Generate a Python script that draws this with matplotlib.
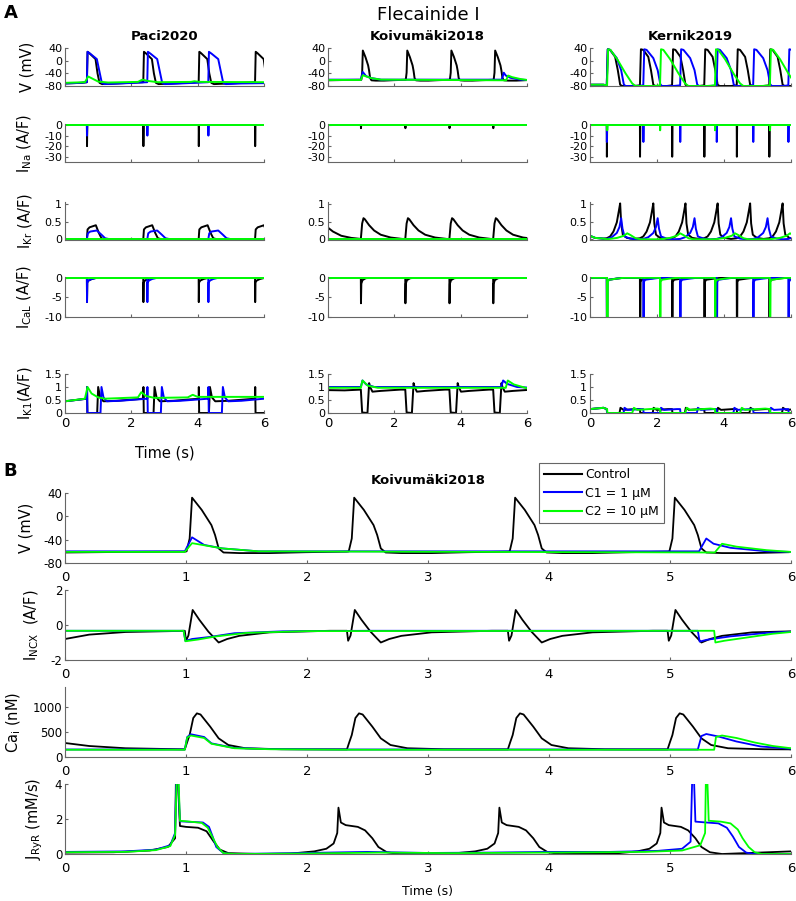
import matplotlib
matplotlib.use("Agg")
import matplotlib.pyplot as plt
from matplotlib.ticker import FuncFormatter

plt.rcParams['font.family'] = ['DejaVu Sans']
plt.rcParams['axes.unicode_minus'] = False

#--------------------------------------------------------------------
#                     text / labels
#--------------------------------------------------------------------
fig_title = 'Flecainide I'
model_names = ['Paci2020', 'Koivumäki2018', 'Kernik2019']
legend_labels = ['Control', 'C1 = 1 μM', 'C2 = 10 μM']
a_ylabels = ['V (mV)', r'I$_{\mathrm{Na}}$ (A/F)', r'I$_{\mathrm{Kr}}$ (A/F)',
             r'I$_{\mathrm{CaL}}$ (A/F)', r'I$_{\mathrm{K1}}$(A/F)']
b_ylabels = ['V (mV)', r'I$_{\mathrm{NCX}}$  (A/F)', r'Ca$_{\mathrm{i}}$ (nM)',
             r'J$_{\mathrm{RyR}}$ (mM/s)']
a_yticks = [[-80, -40, 0, 40], [-30, -20, -10, 0], [0, 0.5, 1],
            [-10, -5, 0], [0, 0.5, 1, 1.5]]
a_ylims = [(-80, 40), (-35, 0.5), (-0.02, 1.06), (-10, 0.2), (0, 1.5)]
b_yticks = [[-80, -40, 0, 40], [-2, 0, 2], [0, 500, 1000], [0, 2, 4]]
b_ylims = [(-80, 40), (-2, 2), (0, 1400), (0, 4)]
a_xticks = [0, 2, 4, 6]
b_xticks = [0, 1, 2, 3, 4, 5, 6]
colors = ['#000000', '#0000ff', '#00ff00']

#--------------------------------------------------------------------
#                     Paci2020
#--------------------------------------------------------------------
paci_on_ctl = [0.66, 2.36, 4.03, 5.73]
paci_on_c1 = [0.66, 2.48, 4.32]

paci_v_pre = [(0, -72), (0.5, -70)]
paci_v_ctl = [(0, -68), (0.02, 28), (0.07, 24), (0.26, 5), (0.32, -40),
              (0.38, -70), (0.46, -74), (0.9, -72)]
paci_v_c1 = [(0, -68), (0.02, 28), (0.1, 22), (0.3, 5), (0.38, -35),
             (0.45, -70), (0.53, -74), (1.0, -72)]
paci_v_c2 = [(0, -70), (0.6, -68), (0.7, -50), (0.85, -58), (1.0, -66),
             (1.3, -69), (2.2, -67), (2.33, -60), (2.5, -64), (2.8, -68),
             (3.8, -67), (3.9, -65), (4.05, -67), (6, -68)]

paci_ina_ctl = [(0, 0), (0.004, -20), (0.012, 0)]
paci_ina_c1 = [(0, 0), (0.004, -10), (0.012, 0)]

paci_ikr_ctl = [(0, 0), (0.02, 0.28), (0.08, 0.34), (0.27, 0.4), (0.36, 0.18),
                (0.44, 0.03), (0.55, 0)]
paci_ikr_c1 = [(0, 0), (0.03, 0.17), (0.1, 0.22), (0.3, 0.25), (0.44, 0.13),
               (0.55, 0.03), (0.7, 0)]

paci_ical_ctl = [(0, 0), (0.004, -6.2), (0.012, -1.2), (0.05, -0.7),
                 (0.15, -0.3), (0.3, 0)]

paci_ik1_ctl = [(0, 0.55), (0.005, 1.0), (0.015, 0.0), (0.31, 0.0), (0.34, 1.0),
                (0.4, 0.6), (0.5, 0.45), (0.9, 0.47)]
paci_ik1_c1 = [(0, 0.55), (0.005, 1.0), (0.015, 0.0), (0.41, 0.0), (0.44, 1.0),
               (0.5, 0.6), (0.6, 0.45), (1.0, 0.47)]
paci_ik1_c2 = [(0, 0.45), (0.6, 0.55), (0.68, 1.0), (0.8, 0.75), (1.0, 0.6),
               (1.2, 0.55), (2.2, 0.6), (2.3, 0.8), (2.45, 0.65), (2.7, 0.58),
               (3.7, 0.6), (3.85, 0.7), (4.0, 0.62), (5.0, 0.62), (6, 0.62)]

#--------------------------------------------------------------------
#                     Koivumaki2018
#--------------------------------------------------------------------
koiv_on_ctl = [0.99, 2.33, 3.66, 4.98]

koiv_v_pre = [(0, -62), (0.5, -61)]
koiv_v_ctl = [(0, -60.5), (0.015, -60), (0.04, -38), (0.06, 32), (0.14, 11),
              (0.22, -15), (0.25, -32), (0.28, -55), (0.32, -62), (0.45, -63),
              (0.7, -63), (1.0, -61.5)]
koiv_v_c1 = [(0, -60), (0.99, -60), (1.05, -36), (1.15, -49), (1.3, -55),
             (1.6, -60), (5.24, -60), (5.3, -38), (5.36, -47), (5.5, -54),
             (5.8, -60), (6, -61)]
koiv_v_c2 = [(0, -61), (0.99, -61), (1.05, -46), (1.3, -55), (1.6, -60),
             (5.37, -62), (5.43, -47), (5.55, -52), (5.8, -58), (6, -61)]

koiv_ina_ctl = [(0, 0), (0.004, -3), (0.012, 0)]

koiv_ikr_pre = [(0, 0.33), (0.15, 0.22), (0.4, 0.1), (0.7, 0.04)]
koiv_ikr_ctl = [(0, 0.01), (0.04, 0.45), (0.08, 0.6), (0.12, 0.57), (0.25, 0.4),
                (0.4, 0.25), (0.6, 0.13), (0.9, 0.05), (1.25, 0.01)]

koiv_ical_ctl = [(0, 0), (0.004, -6.5), (0.015, -1.5), (0.05, -0.6),
                 (0.15, -0.1), (0.3, 0)]

koiv_ik1_pre = [(0, 0.88), (0.5, 0.87)]
koiv_ik1_ctl = [(0, 0.9), (0.04, 0.02), (0.2, 0.0), (0.25, 1.15), (0.28, 1.0),
                (0.35, 0.82), (0.6, 0.85), (1.2, 0.9)]
koiv_ik1_c1 = [(0, 1.0), (0.99, 1.0), (1.04, 1.25), (1.15, 1.1), (1.4, 1.0),
               (5.22, 1.0), (5.28, 1.25), (5.4, 1.12), (5.7, 1.0), (6, 0.98)]
koiv_ik1_c2 = [(0, 0.97), (0.99, 0.97), (1.04, 1.25), (1.2, 1.05), (1.5, 0.97),
               (5.36, 0.97), (5.42, 1.25), (5.6, 1.1), (6, 0.95)]

#--------------------------------------------------------------------
#                     Kernik2019
#--------------------------------------------------------------------
kern_on_ctl = [0.5, 1.49, 2.45, 3.41, 4.38, 5.35]
kern_on_c1 = [0.5, 1.59, 2.69, 3.78, 4.87, 5.92]
kern_on_c2 = [0.51, 2.09, 3.73, 5.37]

kern_v_pre = [(0, -76), (0.4, -76)]
kern_v_ctl = [(0, -78), (0.03, 36), (0.1, 34), (0.25, 12), (0.33, -30),
              (0.4, -76), (0.46, -80), (0.8, -80)]
kern_v_c1 = [(0, -78), (0.03, 36), (0.1, 34), (0.3, 8), (0.43, -30),
             (0.51, -75), (0.56, -80), (0.9, -80)]
kern_v_c2 = [(0, -78), (0.03, 36), (0.1, 34), (0.3, 5), (0.55, -40),
             (0.75, -72), (0.85, -80), (1.4, -80)]

kern_ina_ctl = [(0, 0), (0.004, -30), (0.012, 0)]
kern_ina_c1 = [(0, 0), (0.004, -16), (0.012, 0)]
kern_ina_c2 = [(0, 0), (0.004, -5), (0.012, 0)]

kern_ikr_pre = [(0, 0.1), (0.15, 0.04), (0.4, 0.02)]
kern_ikr_ctl = [(0, 0.03), (0.1, 0.08), (0.2, 0.22), (0.3, 0.48), (0.36, 0.8),
                (0.4, 1.02), (0.43, 0.45), (0.48, 0.13), (0.6, 0.04), (0.8, 0.01)]
kern_ikr_c1 = [(0, 0.01), (0.15, 0.06), (0.3, 0.18), (0.38, 0.35), (0.43, 0.6),
               (0.47, 0.3), (0.53, 0.08), (0.7, 0.02), (0.9, 0.0)]
kern_ikr_c2 = [(0, 0.0), (0.3, 0.04), (0.5, 0.1), (0.6, 0.17), (0.7, 0.12),
               (0.85, 0.03), (1.0, 0.0)]

kern_ical = [(0, 0), (0.004, -11), (0.014, -11), (0.02, -1.0), (0.06, -0.5),
             (0.3, -0.2), (0.5, 0)]

kern_ik1_pre = [(0, 0.15), (0.4, 0.2)]
kern_ik1_ctl = [(0, 0.15), (0.01, 0.0), (0.38, 0.0), (0.41, 0.2), (0.5, 0.12),
                (0.85, 0.15)]
kern_ik1_c1 = [(0, 0.15), (0.01, 0.0), (0.5, 0.0), (0.53, 0.2), (0.62, 0.12),
               (1.0, 0.15)]
kern_ik1_c2 = [(0, 0.15), (0.01, 0.0), (0.75, 0.0), (0.8, 0.2), (0.9, 0.12),
               (1.5, 0.17)]

#--------------------------------------------------------------------
#                     panel B extra traces (Koivumaki2018)
#--------------------------------------------------------------------
incx_pre = [(0, -0.8), (0.2, -0.55), (0.5, -0.4), (0.95, -0.34)]
incx_ctl = [(0, -0.33), (0.01, -0.9), (0.03, -0.6), (0.065, 0.86), (0.12, 0.3),
            (0.195, -0.38), (0.28, -1.0), (0.35, -0.8), (0.45, -0.62),
            (0.7, -0.42), (1.2, -0.33)]
incx_c1 = [(0, -0.33), (0.98, -0.33), (0.995, -0.91), (1.05, -0.8), (1.2, -0.68),
           (1.4, -0.47), (1.8, -0.36), (2.5, -0.33), (5.23, -0.33),
           (5.245, -0.95), (5.3, -0.85), (5.5, -0.65), (5.8, -0.45), (6, -0.38)]
incx_c2 = [(0, -0.33), (0.98, -0.33), (0.995, -0.93), (1.1, -0.83),
           (1.25, -0.65), (1.5, -0.45), (2.0, -0.35), (5.365, -0.33),
           (5.375, -1.0), (5.45, -0.9), (5.65, -0.7), (5.85, -0.5), (6, -0.4)]

cai_pre = [(0, 280), (0.2, 220), (0.5, 175), (0.95, 155)]
cai_ctl = [(0, 153), (0.02, 300), (0.04, 440), (0.07, 780), (0.1, 873),
           (0.13, 850), (0.21, 607), (0.28, 373), (0.36, 240), (0.5, 175),
           (0.8, 155), (1.0, 153)]
cai_c1 = [(0, 150), (0.99, 150), (1.01, 400), (1.04, 455), (1.15, 400),
          (1.21, 273), (1.4, 180), (1.7, 158), (2.3, 150), (5.23, 150),
          (5.26, 420), (5.3, 460), (5.4, 410), (5.55, 310), (5.75, 210), (6, 165)]
cai_c2 = [(0, 145), (0.99, 145), (1.01, 390), (1.04, 430), (1.15, 380),
          (1.21, 265), (1.4, 175), (1.7, 155), (2.3, 145), (5.365, 145),
          (5.38, 400), (5.43, 430), (5.55, 380), (5.7, 290), (5.85, 220), (6, 175)]

jryr_pre = [(0, 0.08), (0.4, 0.1), (0.7, 0.2), (0.85, 0.4), (0.91, 0.9),
            (0.92, 6), (0.95, 1.6), (1.0, 1.55), (1.1, 1.5), (1.17, 1.3),
            (1.23, 0.7), (1.28, 0.25), (1.35, 0.05), (1.6, 0.0)]
jryr_spk_ctl = [2.26, 3.59, 4.93]
jryr_ctl = [(-0.4, 0.02), (-0.2, 0.15), (-0.1, 0.3), (-0.04, 0.6), (-0.01, 1.2),
            (0, 2.65), (0.02, 1.8), (0.06, 1.65), (0.16, 1.55), (0.22, 1.35),
            (0.28, 0.9), (0.33, 0.4), (0.4, 0.1), (0.5, 0.0)]
jryr_c1 = [(0, 0.12), (0.5, 0.15), (0.75, 0.25), (0.87, 0.5), (0.91, 1.2),
           (0.925, 6), (0.95, 1.87), (1.0, 1.85), (1.14, 1.8), (1.19, 1.55),
           (1.22, 1.0), (1.25, 0.4), (1.31, 0.05), (1.38, 0.0), (1.6, 0.02),
           (2.0, 0.06), (2.5, 0.12), (3.0, 0.06), (3.5, 0.08), (4.0, 0.12),
           (4.5, 0.12), (4.9, 0.18), (5.1, 0.3), (5.17, 0.7), (5.19, 6),
           (5.21, 1.85), (5.3, 1.8), (5.4, 1.75), (5.47, 1.5), (5.52, 1.0),
           (5.57, 0.4), (5.63, 0.08), (5.7, 0.0), (6, 0.0)]
jryr_c2 = [(0, 0.1), (0.5, 0.12), (0.75, 0.22), (0.87, 0.45), (0.91, 1.1),
           (0.93, 6), (0.95, 1.9), (1.0, 1.87), (1.13, 1.78), (1.18, 1.5),
           (1.22, 0.95), (1.26, 0.4), (1.31, 0.05), (1.4, 0.0), (2.0, 0.03),
           (2.6, 0.08), (3.2, 0.05), (4.0, 0.08), (4.8, 0.12), (5.1, 0.2),
           (5.25, 0.5), (5.29, 1.2), (5.30, 6), (5.32, 1.9), (5.42, 1.85),
           (5.5, 1.75), (5.56, 1.4), (5.6, 0.9), (5.65, 0.4), (5.7, 0.1),
           (5.76, 0.0), (6, 0.0)]

flat0 = [(0, 0), (6, 0)]


#--------------------------------------------------------------------
#                     helpers
#--------------------------------------------------------------------
def unzip(points):
    return [p[0] for p in points], [p[1] for p in points]


def train(pre, onsets, shape, end=None):
    '''beats placed at the read onset times, joined by straight lines'''
    points = list(pre)
    for u in onsets:
        points += [(u + dt, val) for dt, val in shape]
    if end is not None:
        points.append((6.0, end))
    return unzip(points)


W, H = 796, 901
fig = plt.figure(figsize=(W / 100, H / 100), dpi=100)
gray = '#666666'


def add_ax(x0, x1, ytop, ybot):
    return fig.add_axes([x0 / W, 1 - ybot / H, (x1 - x0) / W, (ybot - ytop) / H])


def style(ax, xticks, yticks, ylim, show_x, xsize, ysize, xpad):
    ax.set_xlim(0, 6)
    ax.set_ylim(*ylim)
    ax.set_xticks(xticks)
    ax.set_yticks(yticks)
    ax.patch.set_alpha(0)
    for s in ('top', 'right'):
        ax.spines[s].set_visible(False)
    for s in ('left', 'bottom'):
        ax.spines[s].set_color(gray)
        ax.spines[s].set_linewidth(0.8)
    ax.tick_params(direction='in', length=2.5, width=0.8, color=gray)
    ax.tick_params(axis='y', labelsize=ysize, pad=2)
    ax.tick_params(axis='x', labelsize=xsize, pad=xpad, labelbottom=show_x)
    fmt = FuncFormatter(lambda v, p: f'{v:g}')
    ax.xaxis.set_major_formatter(fmt)
    ax.yaxis.set_major_formatter(fmt)


def draw(ax, traces, lw=1.4):
    for (t, v), c in zip(traces, colors):
        ax.plot(t, v, color=c, lw=lw, solid_joinstyle='round')


#--------------------------------------------------------------------
#                     panel A
#--------------------------------------------------------------------
a_cols = [(65, 264), (328, 527), (590, 791)]
a_rows = [(48, 86), (124.5, 162), (202, 240), (277, 317), (374, 413)]

paci = [
    [train(paci_v_pre, paci_on_ctl, paci_v_ctl),
     train(paci_v_pre, paci_on_c1, paci_v_c1, -71),
     unzip(paci_v_c2)],
    [train([(0, 0)], paci_on_ctl, paci_ina_ctl, 0),
     train([(0, 0)], paci_on_c1, paci_ina_c1, 0),
     unzip(flat0)],
    [train([(0, 0)], paci_on_ctl, paci_ikr_ctl),
     train([(0, 0)], paci_on_c1, paci_ikr_c1, 0),
     unzip(flat0)],
    [train([(0, 0)], paci_on_ctl, paci_ical_ctl),
     train([(0, 0)], paci_on_c1, paci_ical_ctl, 0),
     unzip(flat0)],
    [train([(0, 0.45)], paci_on_ctl, paci_ik1_ctl),
     train([(0, 0.45)], paci_on_c1, paci_ik1_c1, 0.55),
     unzip(paci_ik1_c2)],
]
koiv = [
    [train(koiv_v_pre, koiv_on_ctl, koiv_v_ctl), unzip(koiv_v_c1), unzip(koiv_v_c2)],
    [train([(0, 0)], koiv_on_ctl, koiv_ina_ctl, 0), unzip(flat0), unzip(flat0)],
    [train(koiv_ikr_pre, koiv_on_ctl, koiv_ikr_ctl), unzip(flat0), unzip(flat0)],
    [train([(0, 0)], koiv_on_ctl, koiv_ical_ctl, 0), unzip(flat0), unzip(flat0)],
    [train(koiv_ik1_pre, koiv_on_ctl, koiv_ik1_ctl), unzip(koiv_ik1_c1),
     unzip(koiv_ik1_c2)],
]
kern = [
    [train(kern_v_pre, kern_on_ctl, kern_v_ctl),
     train(kern_v_pre, kern_on_c1, kern_v_c1),
     train(kern_v_pre, kern_on_c2, kern_v_c2)],
    [train([(0, 0)], kern_on_ctl, kern_ina_ctl, 0),
     train([(0, 0)], kern_on_c1, kern_ina_c1, 0),
     train([(0, 0)], kern_on_c2, kern_ina_c2, 0)],
    [train(kern_ikr_pre, kern_on_ctl, kern_ikr_ctl),
     train(kern_ikr_pre, kern_on_c1, kern_ikr_c1),
     train(kern_ikr_pre, kern_on_c2, kern_ikr_c2)],
    [train([(0, 0)], kern_on_ctl, kern_ical, 0),
     train([(0, 0)], kern_on_c1, kern_ical),
     train([(0, 0)], kern_on_c2, kern_ical, 0)],
    [train(kern_ik1_pre, kern_on_ctl, kern_ik1_ctl),
     train(kern_ik1_pre, kern_on_c1, kern_ik1_c1),
     train(kern_ik1_pre, kern_on_c2, kern_ik1_c2)],
]

for ci, model in enumerate([paci, koiv, kern]):
    x0, x1 = a_cols[ci]
    for ri, (ytop, ybot) in enumerate(a_rows):
        ax = add_ax(x0, x1, ytop, ybot)
        draw(ax, model[ri])
        style(ax, a_xticks, a_yticks[ri], a_ylims[ri], ri == 4, 9.5, 8, 3)
        if ci == 0:
            ax.set_ylabel(a_ylabels[ri], fontsize=10.5, labelpad=7)
    fig.text((x0 + x1) / 2 / W, 1 - 36.5 / H, model_names[ci], ha='center',
             va='center', fontsize=9.5, fontweight='bold')

fig.text(164.5 / W, 1 - 453 / H, 'Time (s)', ha='center', va='center', fontsize=10.5)
fig.text(428 / W, 1 - 15 / H, fig_title, ha='center', va='center', fontsize=13)
fig.text(4 / W, 1 - 13 / H, 'A', ha='left', va='center', fontsize=13, fontweight='bold')

#--------------------------------------------------------------------
#                     panel B
#--------------------------------------------------------------------
b_rows = [(493, 563), (590, 660), (687, 757), (784, 854)]
koiv_b = [
    koiv[0],
    [train(incx_pre, koiv_on_ctl, incx_ctl), unzip(incx_c1), unzip(incx_c2)],
    [train(cai_pre, koiv_on_ctl, cai_ctl, 150), unzip(cai_c1), unzip(cai_c2)],
    [train(jryr_pre, jryr_spk_ctl, jryr_ctl, 0.15), unzip(jryr_c1), unzip(jryr_c2)],
]
for ri, (ytop, ybot) in enumerate(b_rows):
    ax = add_ax(65, 791, ytop, ybot)
    draw(ax, koiv_b[ri], lw=1.3)
    style(ax, b_xticks, b_yticks[ri], b_ylims[ri], True, 9.5, 8.5, 6)
    ax.set_ylabel(b_ylabels[ri], fontsize=10.5, labelpad=7)

fig.text(428 / W, 1 - 481 / H, 'Koivumäki2018', ha='center', va='center',
         fontsize=9.5, fontweight='bold')
fig.text(428 / W, 1 - 892 / H, 'Time (s)', ha='center', va='center', fontsize=9)
fig.text(3 / W, 1 - 471 / H, 'B', ha='left', va='center', fontsize=13, fontweight='bold')

handles = [plt.Line2D([], [], color=c, lw=1.5) for c in colors]
leg = fig.legend(handles, legend_labels, loc='upper left',
                 bbox_to_anchor=(539 / W, 1 - 463 / H), bbox_transform=fig.transFigure,
                 frameon=True, fancybox=False, edgecolor=gray, framealpha=1,
                 fontsize=9, handlelength=3.0, handletextpad=0.3,
                 borderaxespad=0, borderpad=0.4, labelspacing=0.45)
leg.get_frame().set_linewidth(0.8)

fig.savefig('out.png', dpi=100)
